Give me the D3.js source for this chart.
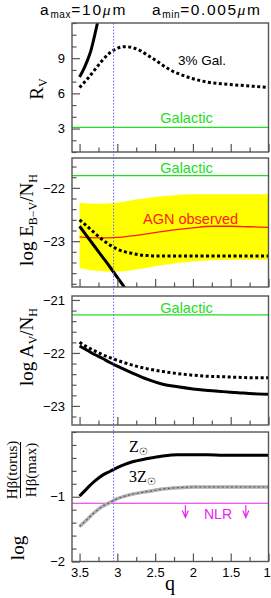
<!DOCTYPE html>
<html><head><meta charset="utf-8">
<script src="https://cdn.jsdelivr.net/npm/d3@7"></script>
<style>body{margin:0;background:#fff}svg{display:block}</style>
</head><body>
<script>
// ---------- data ----------
const qMajor = [3.5, 3, 2.5, 2, 1.5, 1];
const qMajorLabels = ["3.5", "3", "2.5", "2", "1.5", "1"];
const qMinor = [3.25, 2.75, 2.25, 1.75, 1.25];
const qMarked = 3.05;

// Panel 1: R_V
const rvSolidQ = [3.5, 3.45, 3.4, 3.35, 3.3, 3.25];
const rvSolid  = [7.4, 8.0, 8.75, 9.65, 10.95, 12.4];
const rvDotQ = [3.5, 3.4, 3.3, 3.2, 3.1, 3.0, 2.9, 2.8, 2.7, 2.6, 2.5, 2.4, 2.3, 2.2, 2.0, 1.8, 1.6, 1.4, 1.2, 1.0];
const rvDot  = [6.5, 7.2, 8.0, 8.8, 9.45, 9.85, 9.98, 9.9, 9.65, 9.25, 8.85, 8.4, 8.0, 7.7, 7.25, 6.95, 6.8, 6.7, 6.6, 6.5];
const rvGalactic = 3.1;
const rvTicks = [3, 6, 9];
const rvTickLabels = ["3", "6", "9"];

// Panel 2: log E(B-V)/N_H
const ebvGalactic = -21.77;
const agnQ     = [3.5, 3.25, 3.0, 2.75, 2.5, 2.25, 2.0, 1.75, 1.5, 1.25, 1.0];
const agnUpper = [-22.28, -22.3, -22.28, -22.22, -22.17, -22.14, -22.12, -22.12, -22.12, -22.12, -22.12];
const agnLower = [-23.51, -23.56, -23.57, -23.53, -23.47, -23.42, -23.38, -23.36, -23.35, -23.35, -23.35];
const agnMid   = [-22.92, -22.94, -22.93, -22.89, -22.84, -22.79, -22.75, -22.72, -22.72, -22.73, -22.74];
const ebvDotQ = [3.5, 3.4, 3.3, 3.2, 3.1, 3.0, 2.9, 2.8, 2.7, 2.6, 2.5, 2.0, 1.5, 1.0];
const ebvDot  = [-22.6, -22.72, -22.85, -22.97, -23.07, -23.15, -23.2, -23.23, -23.26, -23.27, -23.28, -23.28, -23.28, -23.28];
const ebvSolidQ = [3.5, 3.4, 3.3, 3.2, 3.1, 3.0, 2.9, 2.8];
const ebvSolid  = [-22.72, -22.91, -23.1, -23.29, -23.48, -23.68, -23.88, -24.1];
const ebvTicks = [-23, -22];
const ebvTickLabels = ["\u221223", "\u221222"];

// Panel 3: log A_V/N_H
const avGalactic = -21.28;
const avQ   = [3.5, 3.4, 3.3, 3.2, 3.1, 3.0, 2.8, 2.6, 2.4, 2.2, 2.0, 1.8, 1.6, 1.4, 1.2, 1.0];
const avDot = [-21.8, -21.89, -21.96, -22.03, -22.09, -22.14, -22.23, -22.3, -22.35, -22.39, -22.42, -22.44, -22.45, -22.46, -22.47, -22.47];
const avSolid = [-21.87, -21.95, -22.03, -22.1, -22.18, -22.25, -22.38, -22.5, -22.59, -22.64, -22.68, -22.71, -22.73, -22.75, -22.77, -22.78];
const avTicks = [-23, -22, -21];
const avTickLabels = ["\u221223", "\u221222", "\u221221"];

// Panel 4: log Hbeta(torus)/Hbeta(max)
const hbQ = [3.5, 3.4, 3.3, 3.2, 3.1, 3.0, 2.9, 2.8, 2.6, 2.4, 2.2, 2.0, 1.8, 1.6, 1.4, 1.2, 1.0];
const hbZsun  = [-0.99, -0.87, -0.76, -0.67, -0.61, -0.55, -0.5, -0.46, -0.41, -0.37, -0.35, -0.35, -0.35, -0.36, -0.36, -0.36, -0.36];
const hb3Zsun = [-1.46, -1.35, -1.24, -1.15, -1.09, -1.03, -0.99, -0.96, -0.92, -0.88, -0.86, -0.85, -0.85, -0.85, -0.85, -0.85, -0.85];
const nlrLevel = -1.1;
const nlrArrowQ = [2.1, 1.3];
const hbTicks = [-2, -1];
const hbTickLabels = ["\u22122", "\u22121"];

// ---------- drawing ----------
const W = 271, H = 598;
const svg = d3.select("body").append("svg").attr("width", W).attr("height", H);
const SANS = "'Liberation Sans', Arial, Helvetica, sans-serif";
const SERIF = "'Liberation Serif', 'Times New Roman', serif";
const FRAME = "#555";

const x = d3.scaleLinear().domain([3.6, 1]).range([72, 268.5]);

const layout = [
  {top: 23,  bottom: 152,   dom: [1, 12]},
  {top: 158, bottom: 287,   dom: [-23.86, -21.44]},
  {top: 296, bottom: 425,   dom: [-23.36, -20.925]},
  {top: 432, bottom: 561.5, dom: [-2, 0]}
];
const majorT = [rvTicks, ebvTicks, avTicks, hbTicks];
const majorL = [rvTickLabels, ebvTickLabels, avTickLabels, hbTickLabels];
const minorStep = [1, 0.2, 0.2, 0.2];

const ys = layout.map(p => d3.scaleLinear().domain(p.dom).range([p.bottom, p.top]));
const zip = (qs, vs) => qs.map((q, i) => ({q, v: vs[i]}));

const defs = svg.append("defs");
layout.forEach((p, i) => {
  defs.append("clipPath").attr("id", "clip" + i)
    .append("rect").attr("x", x.range()[0]).attr("y", p.top)
    .attr("width", x.range()[1] - x.range()[0]).attr("height", p.bottom - p.top);
});

const panelG = layout.map((p, i) => svg.append("g").attr("clip-path", `url(#clip${i})`));
const lineFn = y => d3.line().x(d => x(d.q)).y(d => y(d.v)).curve(d3.curveMonotoneX);

function solid(g, y, data, color = "#000", w = 3) {
  g.append("path").datum(data).attr("d", lineFn(y)).attr("fill", "none")
    .attr("stroke", color).attr("stroke-width", w);
}
function dotted(g, y, data) {
  g.append("path").datum(data).attr("d", lineFn(y)).attr("fill", "none")
    .attr("stroke", "#000").attr("stroke-width", 3).attr("stroke-dasharray", "3,2.5");
}
function hline(g, y, v, color) {
  g.append("line").attr("x1", x.range()[0]).attr("x2", x.range()[1])
    .attr("y1", y(v)).attr("y2", y(v)).attr("stroke", color).attr("stroke-width", 1.2);
}
const GREEN = "#22dd22";

// Panel 2 yellow band
{
  const y = ys[1];
  const band = agnQ.map((q, i) => ({q, lo: agnLower[i], hi: agnUpper[i]}));
  panelG[1].append("path").datum(band)
    .attr("d", d3.area().x(d => x(d.q)).y0(d => y(d.lo)).y1(d => y(d.hi)).curve(d3.curveMonotoneX))
    .attr("fill", "#ffff00");
}

// vertical blue dotted marker
svg.append("line").attr("x1", x(qMarked)).attr("x2", x(qMarked))
  .attr("y1", layout[0].top).attr("y2", layout[3].bottom)
  .attr("stroke", "#7474ff").attr("stroke-width", 1.1).attr("stroke-dasharray", "1.6,1.6");

// Panel 1
hline(panelG[0], ys[0], rvGalactic, GREEN);
dotted(panelG[0], ys[0], zip(rvDotQ, rvDot));
solid(panelG[0], ys[0], zip(rvSolidQ, rvSolid));

// Panel 2
hline(panelG[1], ys[1], ebvGalactic, GREEN);
solid(panelG[1], ys[1], zip(agnQ, agnMid), "#ff1a1a", 1.3);
dotted(panelG[1], ys[1], zip(ebvDotQ, ebvDot));
solid(panelG[1], ys[1], zip(ebvSolidQ, ebvSolid));

// Panel 3
hline(panelG[2], ys[2], avGalactic, GREEN);
dotted(panelG[2], ys[2], zip(avQ, avDot));
solid(panelG[2], ys[2], zip(avQ, avSolid));

// Panel 4
{
  const y = ys[3], g = panelG[3];
  hline(g, y, nlrLevel, "#ee22ee");
  solid(g, y, zip(hbQ, hbZsun));
  g.append("path").datum(zip(hbQ, hb3Zsun)).attr("d", lineFn(y)).attr("fill", "none")
    .attr("stroke", "#b0b0b0").attr("stroke-width", 3.5);
  g.append("path").datum(zip(hbQ, hb3Zsun)).attr("d", lineFn(y)).attr("fill", "none")
    .attr("stroke", "#555").attr("stroke-width", 1.1).attr("stroke-dasharray", "2,2.5");
  nlrArrowQ.forEach(q => {
    const xx = x(q), y0 = y(nlrLevel - 0.03), y1 = y(nlrLevel - 0.22);
    g.append("path").attr("d", `M${xx},${y0}L${xx},${y1}M${xx - 3},${y1 - 7}L${xx},${y1}L${xx + 3},${y1 - 7}`)
      .attr("fill", "none").attr("stroke", "#ee22ee").attr("stroke-width", 1.2);
  });
}

// axes
layout.forEach((p, i) => {
  const y = ys[i];
  const minors = d3.range(p.dom[0], p.dom[1] + 1e-9, minorStep[i])
    .map(v => Math.round(v / minorStep[i]) * minorStep[i])
    .filter(v => v >= p.dom[0] - 1e-9 && v <= p.dom[1] + 1e-9 && !majorT[i].some(m => Math.abs(m - v) < 1e-6));
  const gl = svg.append("g").attr("transform", `translate(${x.range()[0]},0)`);
  gl.call(d3.axisLeft(y).tickValues(minors).tickSize(-4.5).tickFormat(""));
  gl.call(g => g.select(".domain").remove());
  const gm = svg.append("g").attr("transform", `translate(${x.range()[0]},0)`);
  gm.call(d3.axisLeft(y).tickValues(majorT[i]).tickSize(-8).tickPadding(7)
    .tickFormat((d, k) => majorL[i][k]));
  gm.select(".domain").remove();
  const gb = svg.append("g").attr("transform", `translate(0,${p.bottom})`);
  gb.call(d3.axisBottom(x).tickValues(qMinor).tickSize(-4.5).tickFormat(""));
  gb.select(".domain").remove();
  const gb2 = svg.append("g").attr("transform", `translate(0,${p.bottom})`);
  gb2.call(d3.axisBottom(x).tickValues(qMajor).tickSize(-8).tickPadding(6)
    .tickFormat((d, k) => i === 3 ? qMajorLabels[k] : ""));
  gb2.select(".domain").remove();
  if (i === 3) gb2.selectAll("g.tick text").filter(d => d === 1).attr("dx", -2);
  svg.selectAll("g.tick line").attr("stroke", FRAME).attr("stroke-width", 1.2);
  svg.selectAll("g.tick text").attr("fill", "#000").attr("font-size", 13).attr("font-family", SANS);
  svg.append("rect").attr("x", x.range()[0]).attr("y", p.top)
    .attr("width", x.range()[1] - x.range()[0]).attr("height", p.bottom - p.top)
    .attr("fill", "none").attr("stroke", FRAME).attr("stroke-width", 1.4);
});

// ---------- text ----------
function txt(xx, yy, s, opts = {}) {
  return svg.append("text").attr("x", xx).attr("y", yy).text(s)
    .attr("font-family", opts.family || SANS).attr("font-size", opts.size || 14)
    .attr("fill", opts.fill || "#000").attr("text-anchor", opts.anchor || "start");
}
txt(186.5, 123, "Galactic", {fill: GREEN, anchor: "middle", size: 14.5});
txt(186.5, 173, "Galactic", {fill: GREEN, anchor: "middle", size: 14.5});
txt(186.5, 313, "Galactic", {fill: GREEN, anchor: "middle", size: 14.5});
txt(178, 64.5, "3% Gal.", {size: 13.5});
txt(143, 224, "AGN observed", {fill: "#ff1a1a", size: 14.5});
txt(204, 519, "NLR", {fill: "#ee22ee", size: 14});

// Z labels
{
  const t1 = txt(129, 452, "Z", {family: SERIF, size: 16});
  t1.append("tspan").attr("dy", 3).attr("font-size", 10).attr("font-family", "'DejaVu Sans', sans-serif").text("\u2609");
  const t2 = txt(129, 482, "3Z", {family: SERIF, size: 16});
  t2.append("tspan").attr("dy", 3).attr("font-size", 10).attr("font-family", "'DejaVu Sans', sans-serif").text("\u2609");
}

// title
{
  const t = txt(40, 14.5, "a", {size: 15.5}).attr("letter-spacing", 1.8);
  t.append("tspan").attr("dy", 3).attr("font-size", 10).attr("letter-spacing", 0.6).text("max");
  t.append("tspan").attr("dy", -3).text("=10");
  t.append("tspan").attr("font-family", SERIF).attr("font-style", "italic").text("\u03bc");
  t.append("tspan").text("m");
  const t2 = txt(152, 14.5, "a", {size: 15.5}).attr("letter-spacing", 1.6);
  t2.append("tspan").attr("dy", 3).attr("font-size", 10).attr("letter-spacing", 0.6).text("min");
  t2.append("tspan").attr("dy", -3).text("=0.005");
  t2.append("tspan").attr("font-family", SERIF).attr("font-style", "italic").text("\u03bc");
  t2.append("tspan").attr("letter-spacing", 0).text("m");
}

// y labels (rotated)
function rtext(xx, yy, size) {
  return svg.append("text").attr("transform", `translate(${xx},${yy}) rotate(-90)`)
    .attr("text-anchor", "middle").attr("font-family", SERIF).attr("font-size", size).attr("fill", "#000");
}
{
  const t = rtext(43, 89, 19);
  t.append("tspan").text("R");
  t.append("tspan").attr("dy", 4).attr("font-size", 12).text("V");
}
{
  const t = rtext(33, 220, 19);
  t.append("tspan").text("log E");
  t.append("tspan").attr("dy", 4).attr("font-size", 12).text("B\u2212V");
  t.append("tspan").attr("dy", -4).text("/N");
  t.append("tspan").attr("dy", 4).attr("font-size", 12).text("H");
}
{
  const t = rtext(33, 347, 19);
  t.append("tspan").text("log A");
  t.append("tspan").attr("dy", 4).attr("font-size", 12).text("V");
  t.append("tspan").attr("dy", -4).text("/N");
  t.append("tspan").attr("dy", 4).attr("font-size", 12).text("H");
}
{
  rtext(24, 548, 19).text("log");
  rtext(17, 470, 15).text("H\u03b2(torus)");
  rtext(36, 470, 15).text("H\u03b2(max)");
  svg.append("line").attr("x1", 20.5).attr("x2", 20.5).attr("y1", 442).attr("y2", 498)
    .attr("stroke", "#000").attr("stroke-width", 1);
}
// x label
txt(170, 590, "q", {family: SERIF, size: 20, anchor: "middle"});
</script>
</body></html>
